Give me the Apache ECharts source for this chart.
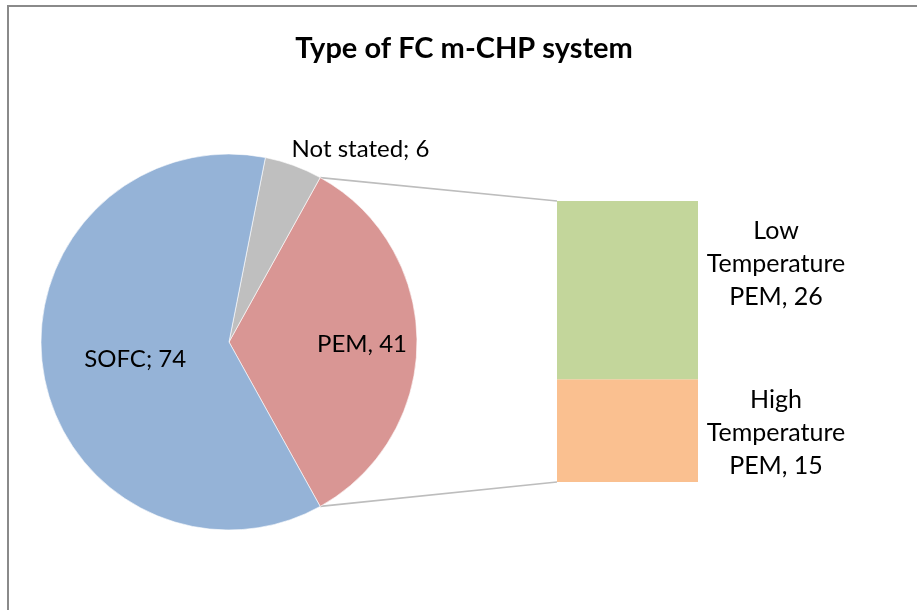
<!DOCTYPE html>
<html>
	<head>
		<meta charset="UTF-8">
		<title>Type of FC m-CHP system</title>
		<style type="text/css">
			html,body{
				margin: 0;
				padding: 0;
				width: 100%;
				height: 100%;
				background: #fff;
			}
			#main{
				width: 917px;
				height: 610px;
			}
		</style>
	</head>
	<body>
		<div id="main"></div>
		<script src="https://cdn.jsdelivr.net/npm/echarts@6/dist/echarts.min.js"></script>
		<script>
			// pie: main categories
			var pieNames = ['PEM', 'Not stated', 'SOFC'];
			var pieValues = [41, 6, 74];
			var pieSeps = [', ', '; ', '; '];
			var pieColors = ['#D99694', '#BFBFBF', '#95B3D7'];

			// bar: split of PEM
			var subNames = ['High\nTemperature\nPEM', 'Low\nTemperature\nPEM'];
			var subValues = [15, 26];
			var subColors = ['#FAC090', '#C3D69B'];

			var FONT = 'Lato';
			var total = pieValues.reduce(function(a, b){ return a + b; }, 0);
			var subTotal = subValues.reduce(function(a, b){ return a + b; }, 0);
			var halfAngle = pieValues[0] / total * 180;

			var cx = 229, cy = 342, R = 188;
			var barLeft = 557, barTop = 201, barW = 141, barH = 281;

			// connector lines: PEM slice edges -> bar corners (bar axis spans the whole grid)
			var a = halfAngle * Math.PI / 180;
			var pTop = [cx + R * Math.cos(a), cy - R * Math.sin(a)];
			var pBot = [cx + R * Math.cos(a), cy + R * Math.sin(a)];
			var lineStyle = { stroke: '#BDBDBD', lineWidth: 1.6 };

			var myChart = echarts.init(document.getElementById('main'));

			var barSeries = subValues.map(function(v, i){
				return {
					type: 'bar',
					stack: 'pem',
					barWidth: '100%',
					data: [v],
					itemStyle: { color: subColors[i] },
					label: {
						show: true,
						position: 'right',
						distance: 78,
						align: 'center',
						offset: i === 1 ? [0, -26] : [0, 2],
						color: '#000',
						fontFamily: FONT,
						fontSize: 25,
						lineHeight: 33,
						formatter: subNames[i] + ', ' + v
					},
					silent: true
				};
			});

			myChart.setOption({
				backgroundColor: '#fff',
				animation: false,
				title: {
					text: 'Type of FC m-CHP system',
					left: 459,
					top: 29,
					textAlign: 'center',
					textStyle: { fontFamily: FONT, fontWeight: 'bold', fontSize: 29, color: '#000' }
				},
				grid: { left: barLeft, top: barTop, width: barW, height: barH },
				xAxis: { type: 'category', data: ['PEM'], show: false },
				yAxis: { type: 'value', min: 0, max: subTotal, show: false },
				graphic: [
					{ type: 'rect', shape: { x: 8, y: 6, width: 1200, height: 1200 }, style: { fill: 'none', stroke: '#8A8A8A', lineWidth: 2 }, silent: true },
					{ type: 'line', shape: { x1: pTop[0], y1: pTop[1], x2: barLeft, y2: barTop }, style: lineStyle, silent: true },
					{ type: 'line', shape: { x1: pBot[0], y1: pBot[1], x2: barLeft, y2: barTop + barH }, style: lineStyle, silent: true }
				],
				series: [{
					type: 'pie',
					center: [cx, cy],
					radius: R,
					startAngle: -halfAngle,
					clockwise: false,
					silent: true,
					itemStyle: { borderColor: '#fff', borderWidth: 0.6 },
					label: {
						show: true,
						position: 'inside',
						color: '#000',
						fontFamily: FONT,
						fontSize: 24,
						formatter: function(p){ return p.name + pieSeps[p.dataIndex] + p.value; }
					},
					labelLayout: function(p){
						if (p.dataIndex === 0) return { dx: 36, dy: 2 };
						if (p.dataIndex === 2) return { dx: 2, dy: 2 };
						return { dx: -7, dy: -16 };
					},
					data: pieValues.map(function(v, i){
						var d = { name: pieNames[i], value: v, itemStyle: { color: pieColors[i] } };
						if (i === 1) {
							d.label = { position: 'outside' };
							d.labelLine = { show: false, length: 0, length2: 0 };
						}
						return d;
					})
				}].concat(barSeries)
			});
		</script>
	</body>
</html>
